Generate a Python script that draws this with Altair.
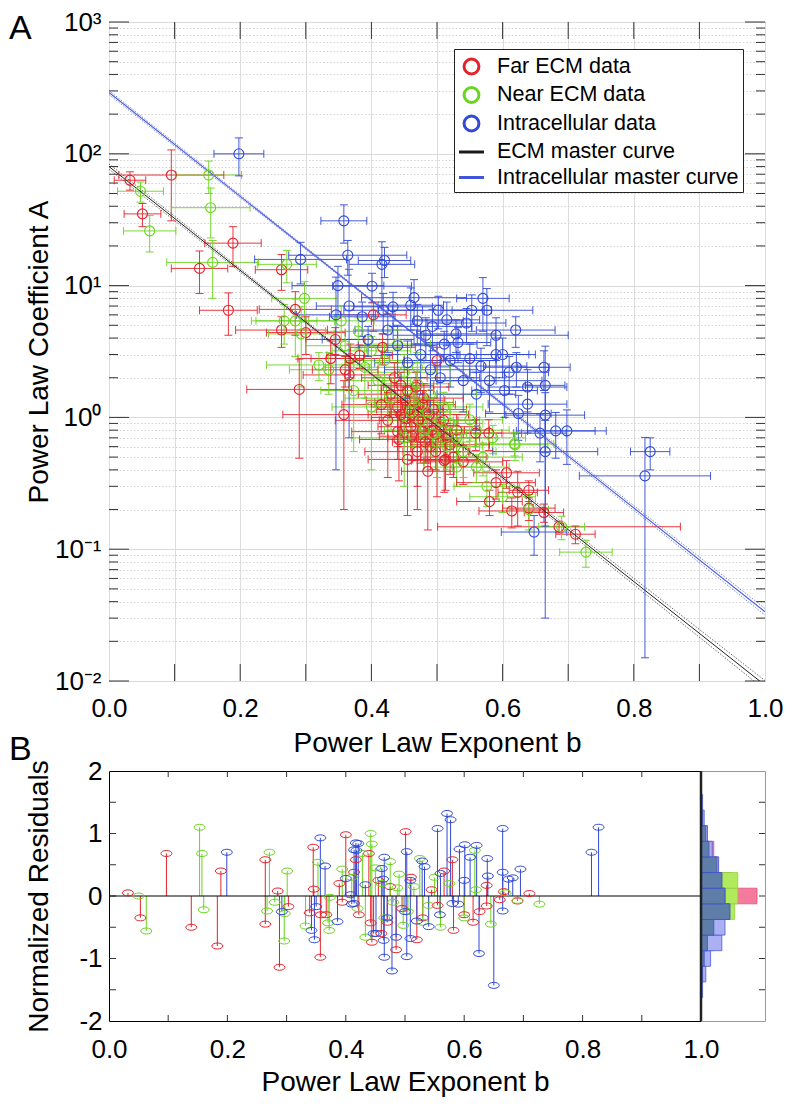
import altair as alt
import pandas as pd

FONT = "Liberation Sans"
RED, GREEN, BLUE = "#e5222b", "#6ad41e", "#3049d6"

series_names = ["Far ECM data", "Near ECM data", "Intracellular data",
                "ECM master curve", "Intracellular master curve"]
series_colors = [RED, GREEN, BLUE, "#1a1a1a", "#3f55da"]

# ---------------- Panel A : power-law fits (b, A, half-width in b, half-width in A) -------------
far_b = [0.032, 0.051, 0.095, 0.138, 0.182, 0.189, 0.263, 0.284, 0.263, 0.300,
         0.345, 0.338, 0.290, 0.358, 0.368, 0.382, 0.360, 0.366, 0.417, 0.403,
         0.442, 0.486, 0.500, 0.559, 0.579, 0.513, 0.590, 0.606, 0.580, 0.614,
         0.640, 0.640, 0.663, 0.623, 0.686, 0.711, 0.540, 0.511, 0.430, 0.440,
         0.450, 0.455, 0.460, 0.465, 0.470, 0.475, 0.480, 0.485, 0.490, 0.495,
         0.500, 0.510, 0.520, 0.435, 0.425, 0.445, 0.470, 0.415, 0.455, 0.530,
         0.445, 0.452, 0.458, 0.462, 0.468, 0.472, 0.478, 0.482, 0.488, 0.492,
         0.498, 0.505, 0.515, 0.525, 0.440]
far_A = [63, 35, 69, 13.5, 6.5, 21, 13.2, 6.6, 4.6, 4.4,
         3.9, 2.8, 1.63, 1.05, 2.8, 2.95, 2.3, 2.1, 3.4, 6.0,
         0.68, 0.39, 2.7, 0.76, 0.76, 0.48, 0.32, 0.38, 0.23, 0.195,
         0.28, 0.205, 0.19, 0.27, 0.148, 0.13, 0.46, 0.47, 1.5, 1.2,
         1.0, 1.6, 0.85, 1.3, 1.1, 0.7, 1.4, 0.9, 0.6, 1.15,
         0.75, 0.95, 0.62, 2.0, 0.95, 1.75, 0.55, 1.25, 0.48, 0.80,
         1.05, 1.35, 1.15, 0.72, 1.7, 0.95, 1.25, 0.65, 1.05, 0.8,
         0.55, 0.85, 0.7, 0.5, 0.78]
far_db = [0.024, 0.028, 0.080, 0.043, 0.044, 0.043, 0.040, 0.055, 0.070, 0.060,
          0.045, 0.050, 0.080, 0.093, 0.060, 0.050, 0.050, 0.070, 0.050, 0.050,
          0.060, 0.040, 0.050, 0.040, 0.050, 0.050, 0.060, 0.050, 0.050, 0.050,
          0.030, 0.040, 0.030, 0.030, 0.185, 0.030, 0.060, 0.050, 0.050, 0.040,
          0.050, 0.040, 0.050, 0.060, 0.040, 0.050, 0.060, 0.040, 0.050, 0.050,
          0.040, 0.050, 0.060, 0.050, 0.080, 0.050, 0.080, 0.060, 0.060, 0.050,
          0.050, 0.060, 0.050, 0.050, 0.050, 0.060, 0.050, 0.050, 0.060, 0.050,
          0.050, 0.060, 0.050, 0.050, 0.070]
far_dA = [10, 7, 38, 4.8, 2.3, 7, 4, 2.4, 1.2, 1.4,
          0.9, 1.0, 1.14, 0.85, 0.8, 0.6, 0.6, 0.5, 0.9, 1.5,
          0.35, 0.25, 0.7, 0.2, 0.2, 0.2, 0.08, 0.09, 0.05, 0.05,
          0.05, 0.04, 0.03, 0.12, 0.015, 0.02, 0.15, 0.2, 0.5, 0.6,
          0.3, 0.7, 0.3, 0.35, 0.8, 0.25, 0.4, 0.45, 0.2, 0.25,
          0.5, 0.3, 0.25, 0.6, 0.6, 0.45, 0.35, 0.5, 0.3, 0.25,
          0.3, 0.35, 0.3, 0.25, 0.5, 0.3, 0.35, 0.2, 0.3, 0.25,
          0.15, 0.3, 0.2, 0.15, 0.3]

near_b = [0.048, 0.062, 0.152, 0.155, 0.158, 0.271, 0.267, 0.284, 0.298, 0.293,
          0.354, 0.335, 0.373, 0.320, 0.550, 0.618, 0.530, 0.576, 0.619, 0.727,
          0.690, 0.560, 0.600, 0.640, 0.390, 0.400, 0.410, 0.420, 0.430, 0.440,
          0.450, 0.460, 0.470, 0.480, 0.490, 0.500, 0.510, 0.520, 0.530, 0.540,
          0.450, 0.400, 0.360, 0.380, 0.570, 0.585, 0.465, 0.475, 0.485, 0.495,
          0.505, 0.515, 0.560, 0.470]
near_A = [52, 26, 69, 39, 15, 14.5, 5.4, 5.4, 8.0, 4.3,
          5.4, 2.3, 1.6, 2.5, 0.96, 0.63, 0.42, 0.30, 0.62, 0.095,
          0.148, 0.42, 0.25, 0.20, 2.4, 3.2, 1.9, 2.7, 1.4, 3.6,
          2.2, 1.1, 1.8, 0.8, 1.5, 0.65, 1.2, 0.9, 0.70, 0.55,
          0.70, 1.2, 3.5, 4.5, 0.50, 0.70, 1.3, 0.95, 1.1, 0.75,
          0.95, 0.6, 0.8, 2.4]
near_db = [0.035, 0.040, 0.050, 0.060, 0.070, 0.045, 0.050, 0.060, 0.050, 0.050,
           0.050, 0.060, 0.050, 0.080, 0.050, 0.060, 0.050, 0.050, 0.050, 0.040,
           0.035, 0.050, 0.050, 0.030, 0.060, 0.060, 0.050, 0.060, 0.070, 0.050,
           0.050, 0.060, 0.050, 0.060, 0.070, 0.050, 0.060, 0.050, 0.060, 0.050,
           0.080, 0.060, 0.060, 0.050, 0.060, 0.050, 0.060, 0.050, 0.060, 0.050,
           0.060, 0.050, 0.050, 0.050]
near_dA = [9, 8, 19, 16, 7, 4, 1.8, 2.5, 2.7, 2.6,
           1.6, 0.8, 1.05, 0.6, 0.3, 0.12, 0.12, 0.09, 0.15, 0.022,
           0.03, 0.1, 0.06, 0.06, 1.0, 0.9, 0.7, 0.8, 0.6, 1.0,
           0.8, 0.5, 0.5, 0.35, 0.5, 0.3, 0.35, 0.35, 0.25, 0.2,
           0.4, 0.8, 1.0, 1.2, 0.14, 0.17, 0.4, 0.3, 0.35, 0.25,
           0.3, 0.2, 0.2, 0.7]

intra_b = [0.198, 0.358, 0.364, 0.292, 0.349, 0.401, 0.416, 0.420, 0.418, 0.433,
           0.386, 0.346, 0.366, 0.465, 0.460, 0.502, 0.570, 0.576, 0.553, 0.470,
           0.493, 0.483, 0.511, 0.529, 0.532, 0.550, 0.590, 0.600, 0.663, 0.610,
           0.621, 0.638, 0.603, 0.624, 0.665, 0.657, 0.681, 0.698, 0.665, 0.665,
           0.648, 0.825, 0.817, 0.567, 0.638, 0.440, 0.455, 0.475, 0.490, 0.505,
           0.520, 0.540, 0.560, 0.580, 0.395, 0.425, 0.545, 0.515, 0.590, 0.620]
intra_A = [100, 31, 17, 15.8, 10, 9.9, 14.5, 15.5, 6.5, 6.9,
           5.8, 6.0, 7.0, 8.1, 7.1, 6.5, 8.0, 6.5, 6.5, 5.4,
           4.9, 4.2, 3.6, 4.3, 3.7, 2.8, 3.0, 3.0, 2.4, 2.2,
           2.4, 1.26, 1.6, 1.07, 1.04, 0.76, 0.79, 0.79, 0.55, 1.75,
           0.135, 0.55, 0.36, 2.45, 1.7, 3.5, 2.6, 3.0, 2.3, 2.0,
           2.7, 1.9, 1.5, 1.9, 3.9, 4.6, 5.2, 5.5, 4.2, 4.6]
intra_db = [0.038, 0.035, 0.090, 0.070, 0.070, 0.060, 0.050, 0.040, 0.060, 0.060,
            0.050, 0.060, 0.050, 0.080, 0.050, 0.070, 0.040, 0.070, 0.030, 0.070,
            0.060, 0.050, 0.050, 0.060, 0.050, 0.040, 0.060, 0.040, 0.040, 0.060,
            0.050, 0.060, 0.050, 0.050, 0.060, 0.040, 0.060, 0.060, 0.080, 0.030,
            0.050, 0.030, 0.100, 0.070, 0.060, 0.060, 0.050, 0.060, 0.070, 0.060,
            0.070, 0.050, 0.060, 0.080, 0.070, 0.050, 0.060, 0.050, 0.110, 0.060]
intra_dA = [32, 10, 5, 5.5, 4, 2.5, 7, 4, 2.2, 2,
            1.7, 5.6, 6.3, 3, 2.5, 1.8, 3.5, 3, 2, 1.8,
            1.7, 1.5, 0.9, 1.2, 1.1, 0.8, 1.0, 1.0, 0.8, 0.7,
            0.7, 0.5, 0.6, 0.4, 0.5, 0.3, 0.3, 0.35, 0.4, 1.72,
            0.045, 0.15, 0.345, 0.9, 0.6, 1.5, 1.2, 1.5, 1.2, 1.0,
            1.0, 0.8, 0.7, 0.8, 1.0, 1.5, 1.5, 2.0, 1.5, 1.2]

# master curves (value of A at b = 0, 0.45, 1) with dotted confidence bounds
curve_b = [0.0, 0.45, 1.0]
ecm_mid = [80.0, 1.355, 0.00929]
ecm_hi = [83.75, 1.371, 0.01007]
ecm_lo = [76.4, 1.340, 0.00857]
intra_mid = [291.7, 4.92, 0.0335]
intra_hi = [302.0, 4.98, 0.0355]
intra_lo = [281.8, 4.86, 0.0316]

# ---------------- Panel B : normalized residuals -------------
far_rb = [0.032, 0.053, 0.097, 0.139, 0.183, 0.189, 0.264, 0.264, 0.285, 0.288,
          0.303, 0.345, 0.346, 0.339, 0.357, 0.358, 0.367, 0.400, 0.389, 0.394,
          0.414, 0.417, 0.422, 0.439, 0.442, 0.444, 0.501, 0.580, 0.566, 0.485,
          0.582, 0.615, 0.626, 0.638, 0.660, 0.667, 0.638, 0.470, 0.710, 0.690,
          0.455, 0.475, 0.495, 0.510, 0.530, 0.545, 0.460, 0.520, 0.555, 0.600]
far_r = [0.05, -0.35, 0.68, -0.5, -0.8, 0.4, 0.58, -0.45, 0.08, -1.14,
         -0.17, 0.78, 0.11, -0.27, -0.98, -0.3, -0.3, 0.98, 0.2, -0.1,
         0.38, 0.58, -0.3, 0.68, -0.43, -0.74, 1.03, 0.58, 0.4, -0.86,
         -0.55, -0.42, -0.25, -0.16, -0.06, 0.07, 0.17, -0.42, 0.04, -0.08,
         0.25, 0.15, -0.2, 0.3, -0.35, 0.1, -0.6, -0.7, -0.15, -0.3]
near_rb = [0.050, 0.063, 0.153, 0.157, 0.160, 0.271, 0.267, 0.280, 0.301, 0.296,
           0.297, 0.332, 0.353, 0.372, 0.370, 0.373, 0.394, 0.442, 0.444, 0.433,
           0.428, 0.618, 0.530, 0.487, 0.497, 0.690, 0.727, 0.410, 0.420, 0.450,
           0.460, 0.465, 0.475, 0.480, 0.490, 0.505, 0.515, 0.525, 0.540, 0.550,
           0.560, 0.575, 0.600, 0.620, 0.645, 0.670]
near_r = [0.0, -0.56, 1.1, 0.68, -0.22, 0.7, -0.24, -0.1, 0.4, -0.72,
          -0.28, -0.48, 0.54, -0.55, -0.43, -0.02, 0.43, 1.0, 0.83, -0.66,
          0.68, 0.73, -0.42, 0.13, -0.47, -0.07, -0.13, 0.3, -0.2, 0.45,
          0.2, -0.35, 0.55, -0.1, 0.35, -0.25, 0.15, 0.6, -0.15, 0.3,
          -0.5, 0.2, -0.35, 0.1, -0.45, 0.05]
intra_rb = [0.199, 0.292, 0.342, 0.347, 0.350, 0.357, 0.365, 0.386, 0.417, 0.414,
            0.400, 0.408, 0.414, 0.433, 0.447, 0.464, 0.465, 0.478, 0.465, 0.461,
            0.571, 0.577, 0.555, 0.665, 0.601, 0.621, 0.592, 0.639, 0.610, 0.695,
            0.682, 0.665, 0.640, 0.600, 0.529, 0.533, 0.560, 0.503, 0.509, 0.421,
            0.418, 0.463, 0.650, 0.625, 0.503, 0.485, 0.451, 0.509, 0.540, 0.559,
            0.665, 0.580, 0.590, 0.410, 0.500, 0.815, 0.827, 0.675, 0.520, 0.470]
intra_r = [0.7, -0.25, -0.55, -0.7, -0.17, 0.93, 0.48, -0.41, 0.85, 0.74,
           0.28, 0.02, -0.12, 0.18, -0.6, -0.71, -0.98, -1.2, 0.62, 0.44,
           1.32, 1.22, 1.08, 1.08, 0.82, 0.81, 0.75, 0.6, 0.62, 0.43,
           0.29, 0.38, 0.32, 0.25, 0.56, 0.47, 0.36, 0.71, 0.25, 0.84,
           0.73, 0.27, -1.43, -0.92, -0.97, -0.66, -0.6, -0.68, -0.49, -0.3,
           -0.24, -0.12, -0.13, -0.13, -0.25, 0.7, 1.1, 0.27, -0.4, -0.35]

# residual histograms (bin centres, counts per series)
hist_center = [-1.5, -1.25, -1.0, -0.75, -0.5, -0.25, 0.0, 0.25, 0.5, 0.75, 1.0, 1.25, 1.5]
hist_far = [0, 1, 2, 4, 8, 18, 35, 19, 11, 8, 4, 1, 0]
hist_near = [0, 1, 4, 8, 11, 21, 23, 23, 10, 5, 3, 1, 0]
hist_intra = [1, 3, 6, 13, 15, 18, 15, 13, 11, 7, 4, 2, 1]

# axis tick positions
A_major = [0.01, 0.1, 1, 10, 100, 1000]
A_major_txt = ["10⁻²", "10⁻¹", "10⁰", "10¹", "10²", "10³"]
A_minor = [round(k * 10.0 ** e, 6) for e in range(-2, 3) for k in range(2, 10)]
b_ticks = [0.1, 0.2, 0.3, 0.4, 0.5, 0.6, 0.7, 0.8, 0.9]
b_grid = [0.0, 0.1, 0.2, 0.3, 0.4, 0.5, 0.6, 0.7, 0.8, 0.9, 1.0]
r_minor = [-1.5, -1.0, -0.5, 0.0, 0.5, 1.0, 1.5]

CIRCLE = "M-0.62,0A0.62,0.62 0 1,0 0.62,0A0.62,0.62 0 1,0 -0.62,0Z"
LINE = "M-1.04,0L1.04,0"
ELLIPSE = "M-1,0A1,0.55 0 1,0 1,0A1,0.55 0 1,0 -1,0Z"

WA, HA = 656, 659
WB, HB, WH = 592, 250, 64

# ---------------- tables ----------------
def pts(name, b, A, db, dA):
    d = pd.DataFrame({"b": b, "A": A, "db": db, "dA": dA})
    d["series"] = name
    return d

df_pts = pd.concat([pts("Far ECM data", far_b, far_A, far_db, far_dA),
                    pts("Near ECM data", near_b, near_A, near_db, near_dA),
                    pts("Intracellular data", intra_b, intra_A, intra_db, intra_dA)],
                   ignore_index=True)
df_pts["b_lo"] = df_pts["b"] - df_pts["db"]
df_pts["b_hi"] = df_pts["b"] + df_pts["db"]
df_pts["A_lo"] = (df_pts["A"] - df_pts["dA"]).clip(lower=0.003)
df_pts["A_hi"] = df_pts["A"] + df_pts["dA"]

def curve(part, vals):
    return pd.DataFrame({"b": curve_b, "A": vals, "part": part})

df_ecm_mid = curve("mid", ecm_mid)
df_ecm_ci = pd.concat([curve("hi", ecm_hi), curve("lo", ecm_lo)])
df_int_mid = curve("mid", intra_mid)
df_int_ci = pd.concat([curve("hi", intra_hi), curve("lo", intra_lo)])

def res(name, b, r):
    d = pd.DataFrame({"b": b, "r": r})
    d["series"] = name
    return d

df_res = pd.concat([res("Far ECM data", far_rb, far_r),
                    res("Near ECM data", near_rb, near_r),
                    res("Intracellular data", intra_rb, intra_r)], ignore_index=True)

def hist(counts):
    return pd.DataFrame({"lo": [c - 0.125 for c in hist_center],
                         "hi": [c + 0.125 for c in hist_center],
                         "count": counts})

hist_overlap = [min(a, b, c) for a, b, c in zip(hist_far, hist_near, hist_intra)]

# ---------------- scales / axes ----------------
label_expr = ""
for v, s in zip(A_major, A_major_txt):
    label_expr += f"datum.value == {v} ? '{s}' : "
label_expr += "''"
major_test = "indexof([0.01, 0.1, 1, 10, 100, 1000], datum.value) >= 0"

axis_common = dict(ticks=False, domain=False, labelFont=FONT, labelFontSize=26,
                   labelColor="black", titleFont=FONT, titleFontSize=28,
                   titleFontWeight="normal", titleColor="black", labelOverlap=False)

xaxisA = alt.Axis(values=b_grid, grid=True, gridColor="#dddddd", gridWidth=1,
                  labelExpr="round(datum.value*10) % 2 == 0 ? format(datum.value, '.1f') : ''",
                  labelFlush=False, labelBaseline="alphabetic", labelPadding=35,
                  titleY=70, titleBaseline="alphabetic", **axis_common)
yaxisA = alt.Axis(values=A_major + A_minor, grid=True,
                  gridColor={"condition": {"test": major_test, "value": "#dadada"}, "value": "#d2d2d2"},
                  gridDash={"condition": {"test": major_test, "value": []}, "value": [1.5, 2]},
                  labelExpr=label_expr, labelPadding=8, titleX=-62,
                  titleBaseline="alphabetic", **axis_common)
xscaleA = alt.Scale(domain=[0, 1], nice=False, zero=False)
yscaleA = alt.Scale(type="log", domain=[0.01, 1000], nice=False)

def xA(f):
    return alt.X(f"{f}:Q", scale=xscaleA, axis=xaxisA, title="Power Law Exponent b")

def yA(f):
    return alt.Y(f"{f}:Q", scale=yscaleA, axis=yaxisA, title="Power Law Coefficient A")

legA = alt.Legend(title=None, orient="none", legendX=345, legendY=27,
                  strokeColor="#222222", fillColor="white", padding=4,
                  labelFont=FONT, labelFontSize=21.5, labelColor="black", labelOffset=12,
                  labelLimit=400, symbolSize=576, symbolStrokeWidth=3, rowPadding=1.5,
                  symbolOpacity=1, symbolFillColor="transparent")
color_scale = alt.Scale(domain=series_names, range=series_colors)
colA = alt.Color("series:N", scale=color_scale, legend=legA)
shpA = alt.Shape("series:N", scale=alt.Scale(domain=series_names,
                                             range=[CIRCLE, CIRCLE, CIRCLE, LINE, LINE]),
                 legend=legA)
# separate stroke scale (data series only) for the error bars, no legend of its own
strkA = alt.Stroke("series:N", scale=alt.Scale(domain=series_names[:3], range=[RED, GREEN, BLUE]),
                   legend=None)

base = alt.Chart(df_pts)
circles = base.mark_point(filled=False, size=260, strokeWidth=1.1, opacity=1, clip=True).encode(
    x=xA("b"), y=yA("A"), color=colA, shape=shpA)
rule_kw = dict(strokeWidth=1, opacity=0.9, clip=True)
hbar = base.mark_rule(**rule_kw).encode(x=xA("b_lo"), x2="b_hi", y=yA("A"), stroke=strkA)
vbar = base.mark_rule(**rule_kw).encode(x=xA("b"), y=yA("A_lo"), y2="A_hi", stroke=strkA)
cap1 = base.mark_rule(yOffset=-4, y2Offset=4, **rule_kw).encode(
    x=xA("b_lo"), y=yA("A"), y2="A", stroke=strkA)
cap2 = base.mark_rule(yOffset=-4, y2Offset=4, **rule_kw).encode(
    x=xA("b_hi"), y=yA("A"), y2="A", stroke=strkA)
cap3 = base.mark_rule(xOffset=-4, x2Offset=4, **rule_kw).encode(
    x=xA("b"), x2="b", y=yA("A_lo"), stroke=strkA)
cap4 = base.mark_rule(xOffset=-4, x2Offset=4, **rule_kw).encode(
    x=xA("b"), x2="b", y=yA("A_hi"), stroke=strkA)

ecm_line = alt.Chart(df_ecm_mid).mark_line(color="#222222", strokeWidth=1, clip=True).encode(
    x=xA("b"), y=yA("A"))
ecm_ci = alt.Chart(df_ecm_ci).mark_line(color="#444444", strokeWidth=0.8, strokeDash=[1.5, 1.5],
                                        clip=True).encode(x=xA("b"), y=yA("A"), detail="part:N")
int_line = alt.Chart(df_int_mid).mark_line(color="#4c5fdc", strokeWidth=1.1, clip=True).encode(
    x=xA("b"), y=yA("A"))
int_ci = alt.Chart(df_int_ci).mark_line(color="#5566dd", strokeWidth=0.8, strokeDash=[1.5, 1.5],
                                        clip=True).encode(x=xA("b"), y=yA("A"), detail="part:N")

df_maj = pd.DataFrame({"v": A_major})
df_min = pd.DataFrame({"v": A_minor})
df_bt = pd.DataFrame({"v": b_ticks})
TK = "#333333"
tk = [
    alt.Chart(df_maj).mark_rule(color=TK).encode(y=yA("v"), x=alt.value(0), x2=alt.value(20)),
    alt.Chart(df_min).mark_rule(color=TK).encode(y=yA("v"), x=alt.value(0), x2=alt.value(9)),
    alt.Chart(df_maj).mark_rule(color=TK).encode(y=yA("v"), x=alt.value(WA), x2=alt.value(WA - 20)),
    alt.Chart(df_min).mark_rule(color=TK).encode(y=yA("v"), x=alt.value(WA), x2=alt.value(WA - 9)),
    alt.Chart(df_bt).mark_rule(color=TK).encode(x=xA("v"), y=alt.value(0), y2=alt.value(17)),
    alt.Chart(df_bt).mark_rule(color=TK).encode(x=xA("v"), y=alt.value(HA), y2=alt.value(HA - 17)),
]
letterA = alt.Chart(pd.DataFrame({"t": ["A"]})).mark_text(
    font=FONT, fontSize=34, align="left", baseline="alphabetic", color="black").encode(
    text="t:N", x=alt.value(-100), y=alt.value(17))

panelA = alt.layer(*tk, ecm_ci, int_ci, hbar, vbar, cap1, cap2, cap3, cap4,
                   ecm_line, int_line, circles, letterA).properties(width=WA, height=HA)

# ---------------- Panel B ----------------
xaxisB = alt.Axis(values=[0.0, 0.2, 0.4, 0.6, 0.8, 1.0], format=".1f", grid=False,
                  labelFlush=False, labelBaseline="alphabetic", labelPadding=36,
                  titleY=69, titleBaseline="alphabetic", **axis_common)
yaxisB = alt.Axis(values=[-2, -1, 0, 1, 2], labelExpr="'' + datum.value", grid=False,
                  labelPadding=7, titleX=-62, titleBaseline="alphabetic", **axis_common)
xscaleB = alt.Scale(domain=[0, 1], nice=False, zero=False)
yscaleB = alt.Scale(domain=[-2, 2], nice=False, zero=False)

def xB(f):
    return alt.X(f"{f}:Q", scale=xscaleB, axis=xaxisB, title="Power Law Exponent b")

def yB(f):
    return alt.Y(f"{f}:Q", scale=yscaleB, axis=yaxisB, title="Normalized Residuals")

colB = alt.Color("series:N", scale=alt.Scale(domain=series_names[:3], range=[RED, GREEN, BLUE]),
                 legend=None)
stems = alt.Chart(df_res).mark_rule(strokeWidth=1).encode(
    x=xB("b"), y=yB("r"), y2=alt.datum(0), color=colB)
ells = alt.Chart(df_res).mark_point(shape=ELLIPSE, filled=False, size=120, strokeWidth=1,
                                    opacity=1).encode(x=xB("b"), y=yB("r"), color=colB)
zero = alt.Chart(pd.DataFrame({"z": [0]})).mark_rule(color="black", strokeWidth=1.2).encode(
    y=yB("z"))
df_rm = pd.DataFrame({"v": r_minor})
tkB = [
    alt.Chart(df_rm).mark_rule(color=TK).encode(y=yB("v"), x=alt.value(0), x2=alt.value(7)),
    alt.Chart(df_bt).mark_rule(color=TK).encode(x=xB("v"), y=alt.value(0), y2=alt.value(6)),
    alt.Chart(df_bt).mark_rule(color=TK).encode(x=xB("v"), y=alt.value(HB), y2=alt.value(HB - 6)),
]
letterB = alt.Chart(pd.DataFrame({"t": ["B"]})).mark_text(
    font=FONT, fontSize=34, align="left", baseline="alphabetic", color="black").encode(
    text="t:N", x=alt.value(-100), y=alt.value(-11))

panelB = alt.layer(*tkB, stems, zero, ells, letterB).properties(
    width=WB, height=HB, view=alt.ViewBackground(stroke="black", strokeWidth=1))

hx = alt.Scale(domain=[0, 40], nice=False, zero=True)

def hist_layer(counts, fill, stroke):
    return alt.Chart(hist(counts)).mark_rect(fill=fill, stroke=stroke, strokeWidth=0.8).encode(
        x=alt.X("count:Q", scale=hx, axis=None), x2=alt.datum(0),
        y=alt.Y("lo:Q", scale=yscaleB, axis=None), y2="hi")

hist_layers = [hist_layer(hist_far, "#f57a9e", "#e0507a"),
               hist_layer(hist_near, "#b2ea5e", "#8fd43a"),
               hist_layer(hist_intra, "#aab0f2", "#4a5ad8"),
               hist_layer(hist_overlap, "#5e7ea8", "#3c50c8")]
hist_base = alt.Chart(pd.DataFrame({"z": [0]})).mark_rule(color="#222222", strokeWidth=2.5).encode(
    x=alt.X("z:Q", scale=hx, axis=None))
hist_ticks = alt.Chart(df_rm).mark_rule(color=TK).encode(
    y=alt.Y("v:Q", scale=yscaleB, axis=None), x=alt.value(WH), x2=alt.value(WH - 6))
panelH = alt.layer(*hist_layers, hist_base, hist_ticks).properties(
    width=WH, height=HB, view=alt.ViewBackground(stroke="#999999", strokeWidth=1))

rowB = alt.hconcat(panelB, panelH, spacing=0, bounds="flush")

chart = alt.vconcat(panelA, rowB, spacing=90, bounds="flush",
                    padding={"left": 0, "top": 0, "right": 0, "bottom": 0}).resolve_scale(
    color="independent", shape="independent", stroke="independent").configure(
    font=FONT).configure_view(stroke="#333333", strokeWidth=1)

chart.save("out.html", embed_options={"renderer": "svg", "actions": False})
